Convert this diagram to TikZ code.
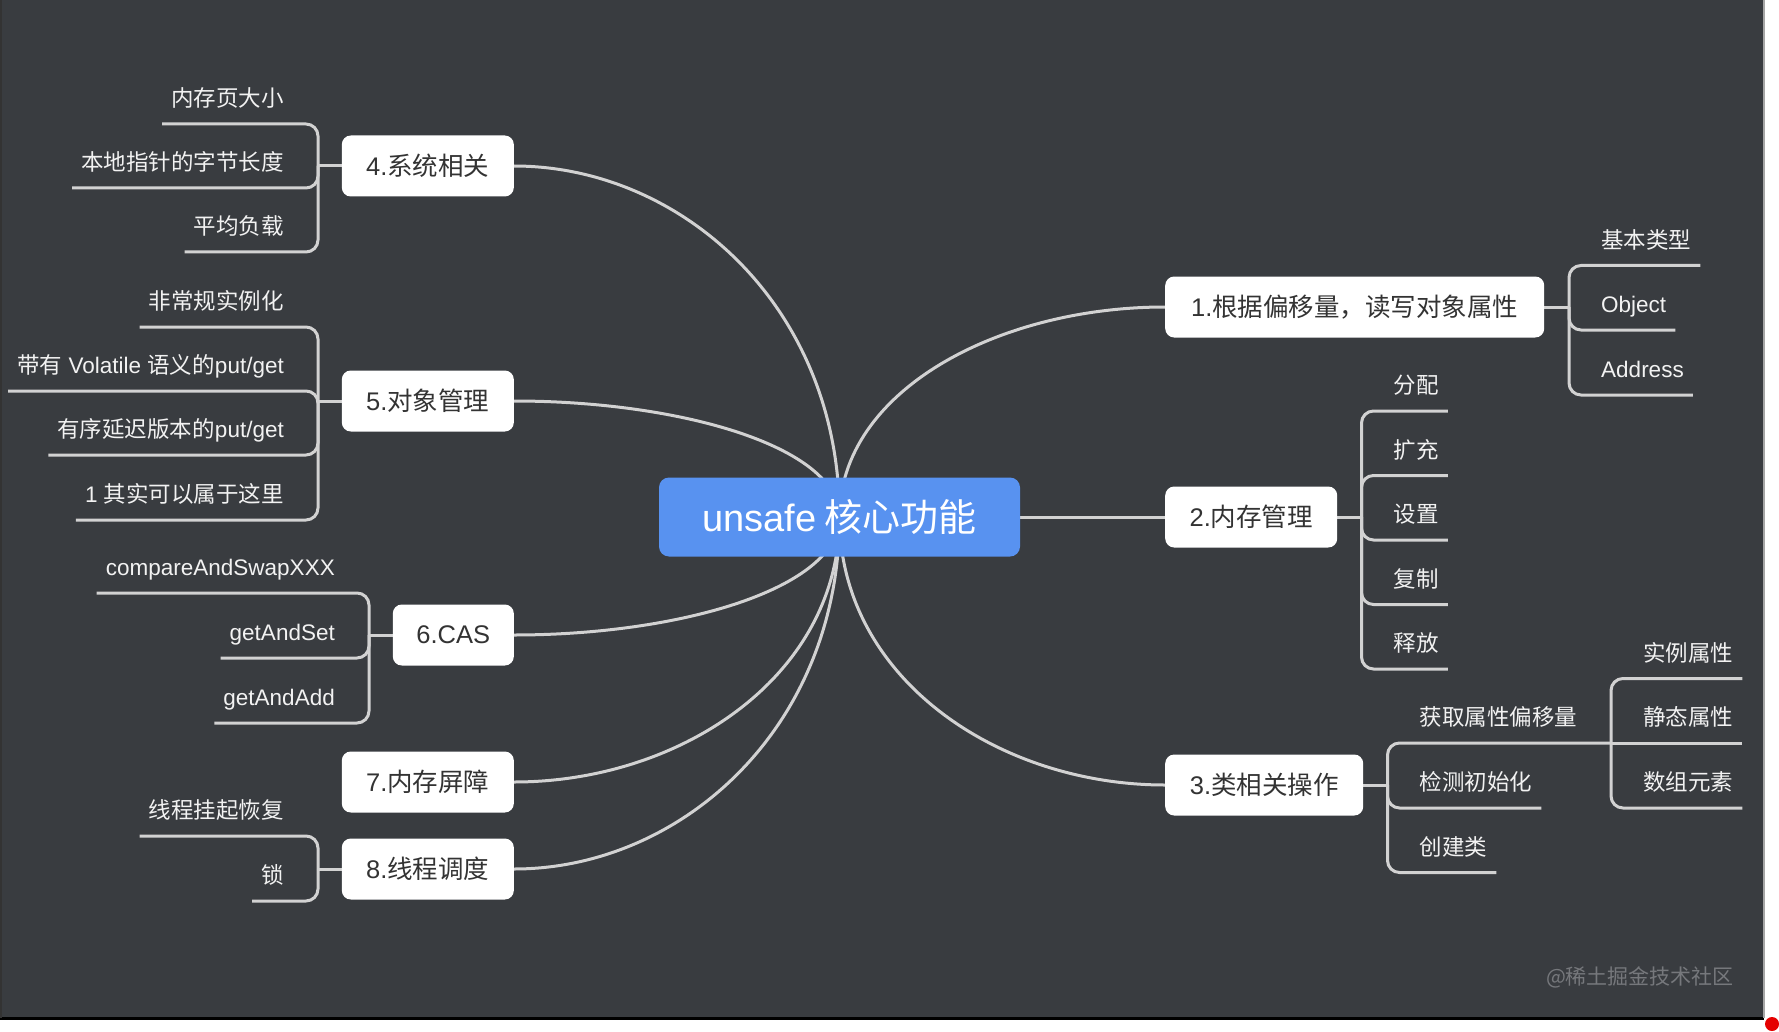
\documentclass[tikz,border=0pt]{standalone}
\usepackage{fontspec}
\newfontfamily\cjk{Noto Sans CJK SC}
\newfontfamily\lat{Liberation Sans}
\pgfdeclarelayer{back}
\pgfdeclarelayer{links}
\pgfsetlayers{back,links,main}
\definecolor{bgdark}{RGB}{57,60,64}
\definecolor{linegray}{RGB}{210,210,210}
\definecolor{txtdark}{RGB}{51,51,51}
\definecolor{rootblue}{RGB}{88,146,240}
\definecolor{wmgray}{RGB}{118,120,124}
\definecolor{leaftext}{RGB}{242,242,242}
\tikzset{
  box/.style={fill=white, rounded corners=9pt, minimum height=61pt, inner sep=0pt, text=txtdark, font=\cjk\fontsize{25.5}{30}\selectfont},
  leaf/.style={text=leaftext, font=\cjk\fontsize{22.5}{26}\selectfont, inner xsep=9pt, inner ysep=0pt, text height=18pt, text depth=4pt, minimum height=48pt},
  conn/.style={draw=linegray, line width=3pt},
  brace/.style={conn, rounded corners=12pt},
}
\begin{document}
\begin{tikzpicture}[x=1pt,y=-1pt]
\useasboundingbox (0,0) rectangle (1779,1032);
\begin{pgfonlayer}{back}
\fill[white] (0,0) rectangle (1779,1032);
\fill[bgdark] (0,0) rectangle (1764,1018);
\fill[black] (0,1017) rectangle (1764,1020);
\fill[black!80] (0,0) rectangle (1.5,1018);
\fill[gray!70] (1763,0) rectangle (1765,1018);
\end{pgfonlayer}
\fill[red!90!black] (1772,1024) circle[radius=7pt];

% root
\node[fill=rootblue, rounded corners=10pt, minimum width=361pt, minimum height=79pt, inner sep=0pt, text=white, font=\cjk\fontsize{38}{42}\selectfont] (root) at (839.5,517) {{\lat unsafe} 核心功能};

% left boxes
\node[box, minimum width=172pt, anchor=east] (b4) at (514,166) {{\lat 4.}系统相关};
\node[box, minimum width=172pt, anchor=east] (b5) at (514,401) {{\lat 5.}对象管理};
\node[box, minimum width=121pt, anchor=east] (b6) at (514,635) {{\lat 6.CAS}};
\node[box, minimum width=172pt, anchor=east] (b7) at (514,782) {{\lat 7.}内存屏障};
\node[box, minimum width=172pt, anchor=east] (b8) at (514,869) {{\lat 8.}线程调度};
% right boxes
\node[box, minimum width=379pt, anchor=west] (b1) at (1165,307) {{\lat 1.}根据偏移量，读写对象属性};
\node[box, minimum width=172pt, anchor=west] (b2) at (1165,517) {{\lat 2.}内存管理};
\node[box, minimum width=198pt, anchor=west] (b3) at (1165,785) {{\lat 3.}类相关操作};

% group 4
\coordinate (k4) at (318,166);
\node[leaf, anchor=south east] (l41) at (293,124) {内存页大小};
\node[leaf, anchor=south east] (l42) at (293,188) {本地指针的字节长度};
\node[leaf, anchor=south east] (l43) at (293,252) {平均负载};
% group 5
\coordinate (k5) at (318,401);
\node[leaf, anchor=south east] (l51) at (293,327) {非常规实例化};
\node[leaf, anchor=south east] (l52) at (293,391) {带有{\lat\ Volatile }语义的{\lat put/get}};
\node[leaf, anchor=south east] (l53) at (293,455) {有序延迟版本的{\lat put/get}};
\node[leaf, anchor=south east] (l54) at (293,520) {{\lat 1 }其实可以属于这里};
% group 6
\coordinate (k6) at (369,635);
\node[leaf, anchor=south east, font=\lat\fontsize{22.5}{26}\selectfont] (l61) at (344,593) {compareAndSwapXXX};
\node[leaf, anchor=south east, font=\lat\fontsize{22.5}{26}\selectfont] (l62) at (344,658) {getAndSet};
\node[leaf, anchor=south east, font=\lat\fontsize{22.5}{26}\selectfont] (l63) at (344,723) {getAndAdd};
% group 8
\coordinate (k8) at (318,869);
\node[leaf, anchor=south east] (l81) at (293,836) {线程挂起恢复};
\node[leaf, anchor=south east] (l82) at (293,901) {锁};
% group 1
\coordinate (k1) at (1569,307);
\node[leaf, anchor=south west] (l11) at (1592,265.5) {基本类型};
\node[leaf, anchor=south west, font=\lat\fontsize{22.5}{26}\selectfont] (l12) at (1592,330) {Object};
\node[leaf, anchor=south west, font=\lat\fontsize{22.5}{26}\selectfont] (l13) at (1592,395) {Address};
% group 2
\coordinate (k2) at (1361.5,517);
\node[leaf, anchor=south west] (l21) at (1384.5,411) {分配};
\node[leaf, anchor=south west] (l22) at (1384.5,475.5) {扩充};
\node[leaf, anchor=south west] (l23) at (1384.5,540) {设置};
\node[leaf, anchor=south west] (l24) at (1384.5,604.5) {复制};
\node[leaf, anchor=south west] (l25) at (1384.5,669) {释放};
% group 3
\coordinate (k3) at (1387.5,785);
\coordinate (g3) at (1611,743);
\node[leaf, anchor=south west] (l31) at (1410.5,743) {获取属性偏移量};
\node[leaf, anchor=south west] (l32) at (1410.5,808) {检测初始化};
\node[leaf, anchor=south west] (l33) at (1410.5,872.5) {创建类};
\node[leaf, anchor=south west] (g31) at (1634,678.5) {实例属性};
\node[leaf, anchor=south west] (g32) at (1634,743) {静态属性};
\node[leaf, anchor=south west] (g33) at (1634,808) {数组元素};

% watermark
\node[text=wmgray, font=\cjk\fontsize{21}{24}\selectfont, inner sep=0pt] (wm) at (1640,977) {@稀土掘金技术社区};

\begin{pgfonlayer}{links}
% central curves
\draw[conn] (root.center) .. controls +(0,-211) and +(167,0) .. (b4.east);
\draw[conn] (root.center) .. controls +(0,-70) and +(167,0) .. (b5.east);
\draw[conn] (root.center) .. controls +(0,71) and +(167,0) .. (b6.east);
\draw[conn] (root.center) .. controls +(0,159) and +(167,0) .. (b7.east);
\draw[conn] (root.center) .. controls +(0,211) and +(167,0) .. (b8.east);
\draw[conn] (root.center) .. controls +(0,-126) and +(-167,0) .. (b1.west);
\draw[conn] (root.center) .. controls +(0,161) and +(-167,0) .. (b3.west);
\draw[conn] (root.east) -- (b2.west);
% group 4
\draw[conn] (b4.west) -- (k4);
\draw[brace] (k4) |- (l41.south west);
\draw[brace] (k4) |- (l42.south west);
\draw[brace] (k4) |- (l43.south west);
% group 5
\draw[conn] (b5.west) -- (k5);
\draw[brace] (k5) |- (l51.south west);
\draw[brace] (k5) |- (l52.south west);
\draw[brace] (k5) |- (l53.south west);
\draw[brace] (k5) |- (l54.south west);
% group 6
\draw[conn] (b6.west) -- (k6);
\draw[brace] (k6) |- (l61.south west);
\draw[brace] (k6) |- (l62.south west);
\draw[brace] (k6) |- (l63.south west);
% group 8
\draw[conn] (b8.west) -- (k8);
\draw[brace] (k8) |- (l81.south west);
\draw[brace] (k8) |- (l82.south west);
% group 1
\draw[conn] (b1.east) -- (k1);
\draw[brace] (k1) |- (l11.south east);
\draw[brace] (k1) |- (l12.south east);
\draw[brace] (k1) |- (l13.south east);
% group 2
\draw[conn] (b2.east) -- (k2);
\draw[brace] (k2) |- (l21.south east);
\draw[brace] (k2) |- (l22.south east);
\draw[brace] (k2) |- (l23.south east);
\draw[brace] (k2) |- (l24.south east);
\draw[brace] (k2) |- (l25.south east);
% group 3
\draw[conn] (b3.east) -- (k3);
\draw[brace] (k3) |- (g3);
\draw[brace] (k3) |- (l32.south east);
\draw[brace] (k3) |- (l33.south east);
\draw[brace] (g3) |- (g31.south east);
\draw[conn] (g3) -- (g32.south east);
\draw[brace] (g3) |- (g33.south east);
\end{pgfonlayer}
\end{tikzpicture}
\end{document}
